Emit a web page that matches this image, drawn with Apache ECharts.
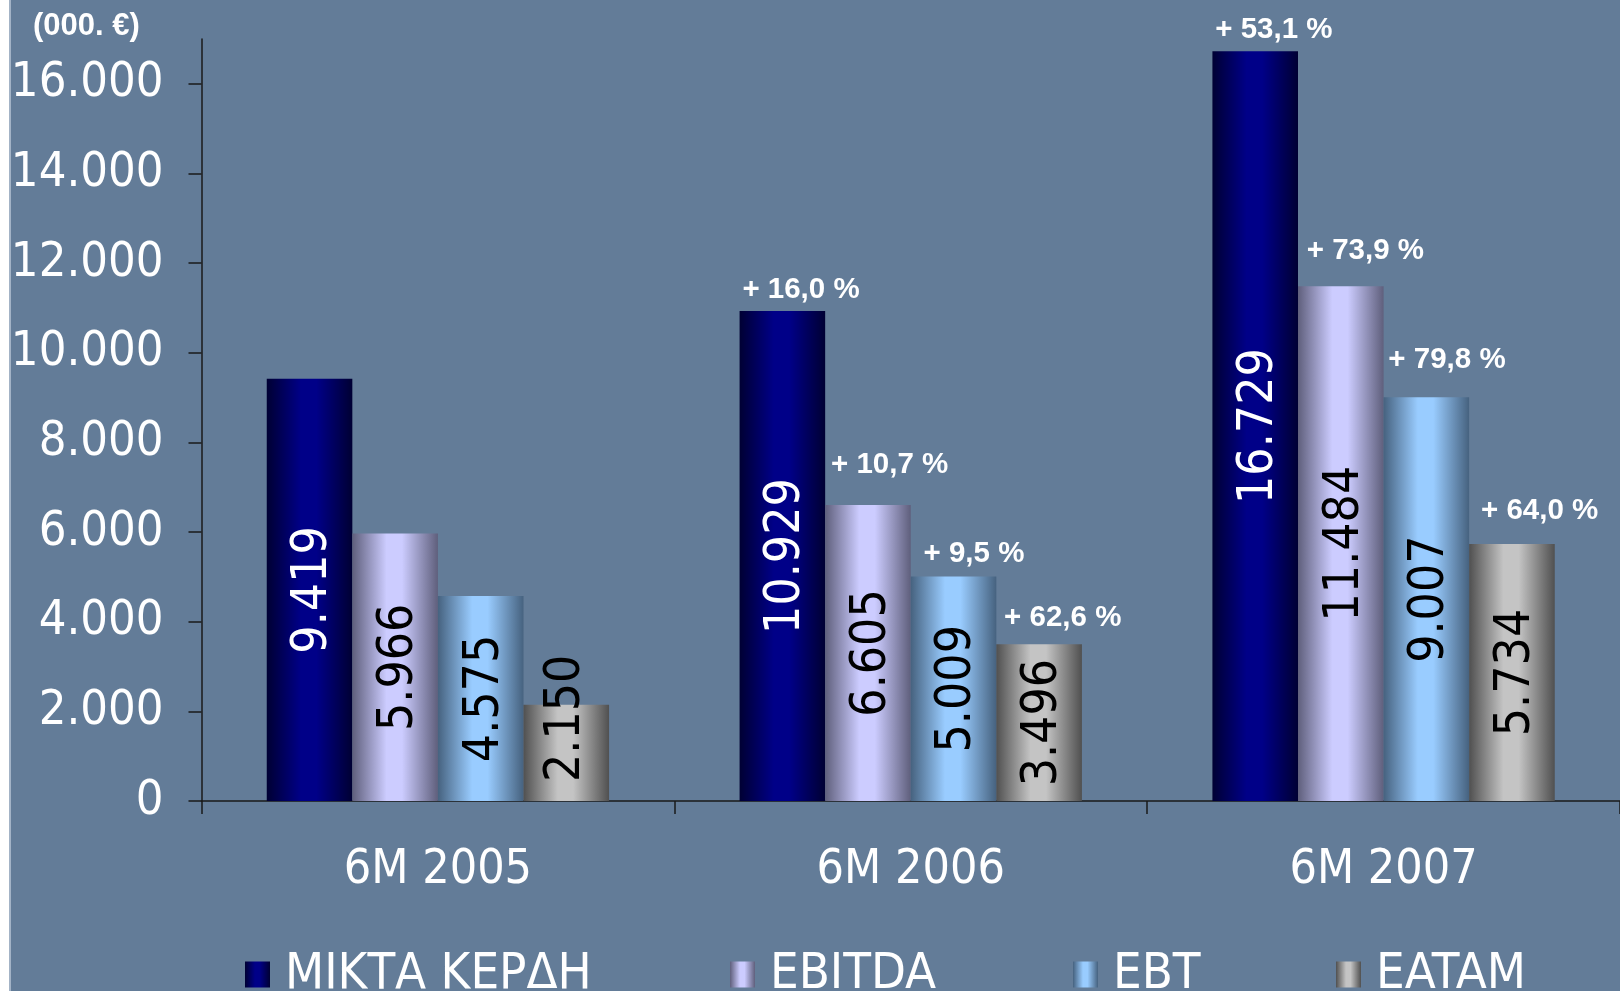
<!DOCTYPE html>
<html>
<head>
<meta charset="utf-8">
<title>6M results</title>
<script src="https://cdn.jsdelivr.net/npm/echarts@6/dist/echarts.min.js"></script>
<style>
  html, body { margin: 0; padding: 0; background: #ffffff; }
  #main { position: absolute; left: 9px; top: 0; width: 1609px; height: 991px; background: #637c98; border-left: 2px solid #a3b3c6; }
</style>
</head>
<body>
<div id="main"></div>
<script>
// data
var categories = ['6M 2005', '6M 2006', '6M 2007'];
var seriesNames = ['ΜΙΚΤΑ ΚΕΡΔΗ', 'EBITDA', 'EBT', 'EATAM'];
var grossProfit = [9419, 10929, 16729];
var ebitda = [5966, 6605, 11484];
var ebt = [4575, 5009, 9007];
var eatam = [2150, 3496, 5734];
// change vs. previous period
var grossPct = ['', '+ 16,0 %', '+ 53,1 %'];
var ebitdaPct = ['', '+ 10,7 %', '+ 73,9 %'];
var ebtPct = ['', '+ 9,5 %', '+ 79,8 %'];
var eatamPct = ['', '+ 62,6 %', '+ 64,0 %'];
var yTicks = [0, 2000, 4000, 6000, 8000, 10000, 12000, 14000, 16000];

// hand placed % labels in the original: [shift right, lift above bar] in px
var pctNudge = [
  [[0, 0], [2, 21], [2, 21]],
  [[0, 0], [5, 40], [8, 35]],
  [[0, 0], [12, 23], [4, 37]],
  [[0, 0], [7, 26], [11, 33]]
];

var condensed = '"DejaVu Sans Condensed", "DejaVu Sans", sans-serif';
var arial = '"Liberation Sans", Arial, sans-serif';

// 16729 -> 16.729
function fmt(v) {
  return String(v).replace(/\B(?=(\d{3})+(?!\d))/g, '.');
}

function barGradient(edge, light) {
  return new echarts.graphic.LinearGradient(0, 0, 1, 0, [
    { offset: 0, color: edge },
    { offset: 0.4, color: light },
    { offset: 0.58, color: light },
    { offset: 1, color: edge }
  ]);
}

var colors = [
  barGradient('#000033', '#000088'),
  barGradient('#5f5f7c', '#ccccff'),
  barGradient('#46627f', '#99ccff'),
  barGradient('#505050', '#c4c4c4')
];
var labelColors = ['#ffffff', '#000000', '#000000', '#000000'];
var catGap = '27.6%';

function valueSeries(idx, values) {
  var data = values.map(function (v) {
    if (v < 2500) {//////short bar: text sits on the base
      return {
        value: v,
        label: { position: 'insideBottom', align: 'left', verticalAlign: 'middle', distance: 19, offset: [0, 0] }
      };
    }
    return v;
  });
  return {
    name: seriesNames[idx],
    type: 'bar',
    stack: 's' + idx,
    barGap: '0%',
    barCategoryGap: catGap,
    itemStyle: { color: colors[idx] },
    label: {
      show: true,
      position: 'inside',
      rotate: 90,
      offset: [0, 4],
      fontFamily: condensed,
      fontSize: 49.5,
      color: labelColors[idx],
      formatter: function (p) { return fmt(p.value); }
    },
    data: data
  };
}

// zero height bar on top of each stack, only carries the % label
function pctSeries(idx, pcts) {
  return {
    name: 'pct' + idx,
    type: 'bar',
    stack: 's' + idx,
    barGap: '0%',
    barCategoryGap: catGap,
    itemStyle: { color: 'transparent' },
    label: {
      show: true,
      position: 'top',
      align: 'left',
      verticalAlign: 'middle',
      distance: 0,
      fontFamily: arial,
      fontWeight: 'bold',
      fontSize: 29.5,
      color: '#ffffff',
      formatter: function (p) { return pcts[p.dataIndex]; }
    },
    data: pcts.map(function (t, i) {
      var n = pctNudge[idx][i];
      return { value: 0, label: { offset: [-42 + n[0], -n[1]] } };
    })
  };
}

var legendLefts = [229, 714, 1057, 1320];
var legends = seriesNames.map(function (n, i) {
  return {
    data: [n],
    left: legendLefts[i],
    top: 944,
    itemWidth: 25,
    itemHeight: 26,
    icon: 'rect',
    selectedMode: false,
    textStyle: {
      color: '#ffffff',
      fontFamily: condensed,
      fontSize: 50.5,
      lineHeight: 50,
      padding: [0, 0, 0, 10]
    }
  };
});

var chart = echarts.init(document.getElementById('main'));
chart.setOption({
  backgroundColor: '#637c98',
  animation: false,
  title: {
    text: '(000. €)',
    left: 17,
    top: 6,
    textStyle: { color: '#ffffff', fontFamily: arial, fontWeight: 'bold', fontSize: 31 }
  },
  legend: legends,
  grid: { left: 190.5, right: 0, top: 39, bottom: 190, containLabel: false, outerBoundsMode: 'none' },
  xAxis: {
    type: 'category',
    data: categories,
    axisLine: { lineStyle: { color: '#1a1a1a', width: 1.5 } },
    axisTick: { show: true, length: 13, lineStyle: { color: '#1a1a1a', width: 1.5 } },
    axisLabel: { color: '#ffffff', fontFamily: condensed, fontSize: 48, margin: 46 }
  },
  yAxis: {
    type: 'value',
    min: 0,
    max: 17000,
    interval: 1000,
    splitLine: { show: false },
    axisLine: { show: true, lineStyle: { color: '#1a1a1a', width: 1.5 } },
    axisTick: { show: true, length: 13, customValues: yTicks, lineStyle: { color: '#1a1a1a', width: 1.5 } },
    axisLabel: {
      color: '#ffffff',
      fontFamily: condensed,
      fontSize: 48.5,
      margin: 38,
      padding: [10, 0, 0, 0],
      customValues: yTicks,
      formatter: function (v) { return fmt(v); }
    }
  },
  series: [
    valueSeries(0, grossProfit), pctSeries(0, grossPct),
    valueSeries(1, ebitda), pctSeries(1, ebitdaPct),
    valueSeries(2, ebt), pctSeries(2, ebtPct),
    valueSeries(3, eatam), pctSeries(3, eatamPct)
  ]
});
</script>
</body>
</html>
